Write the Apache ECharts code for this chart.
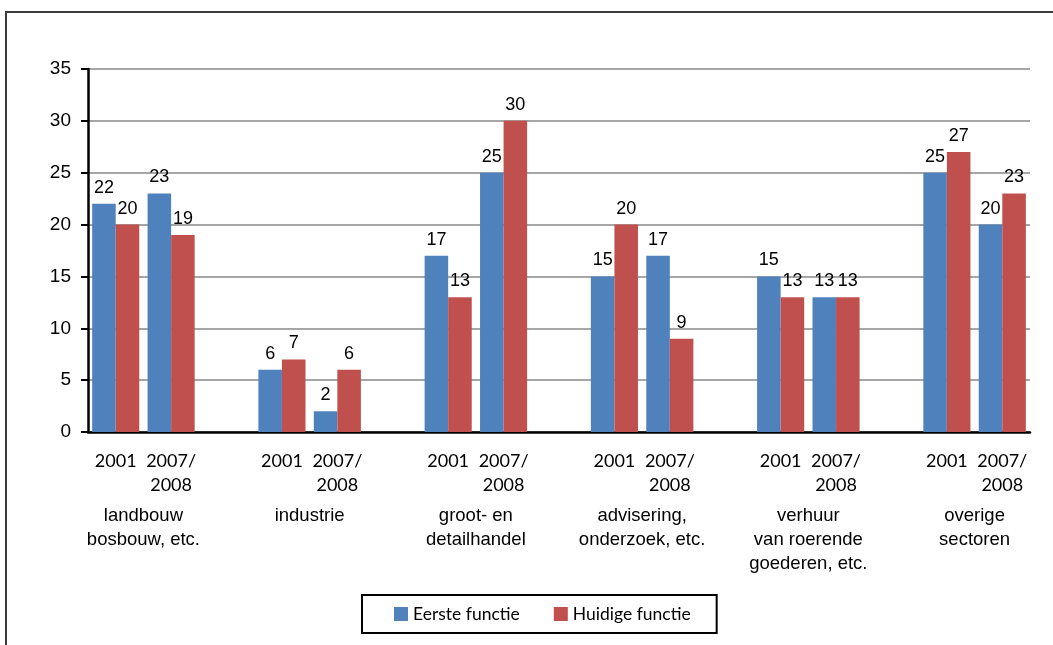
<!DOCTYPE html>
<html lang="nl">

<head>
    <meta charset="UTF-8">
    <title>Eerste en huidige functie per sector</title>
    <script src="https://cdn.jsdelivr.net/npm/echarts@6.0.0/dist/echarts.min.js"></script>
    <style>
        html, body {
            margin: 0;
            padding: 0;
            background: #fff;
            overflow: hidden;
        }

        /* rand om het hele diagram, loopt rechts en onder buiten beeld */
        .frame {
            position: absolute;
            left: 5px;
            top: 11px;
            width: 1100px;
            height: 700px;
            border: 2px solid #3c3c3c;
        }

        #chart {
            position: absolute;
            left: 0;
            top: 0;
            width: 1053px;
            height: 645px;
        }
    </style>
</head>

<body>
    <div class="frame"></div>
    <div id="chart"></div>

    <script>
        // sectoren (onderste rij van de categorie-as)
        const sectors = [
            "landbouw\nbosbouw, etc.",
            "industrie",
            "groot- en\ndetailhandel",
            "advisering,\nonderzoek, etc.",
            "verhuur\nvan roerende\ngoederen, etc.",
            "overige\nsectoren"
        ];
        const years = ["2001", "2007/\n2008"];

        // per sector: [2001, 2007/2008]
        const eersteFunctie = [[22, 23], [6, 2], [17, 25], [15, 17], [15, 13], [25, 20]];
        const huidigeFunctie = [[20, 19], [7, 6], [13, 30], [20, 9], [13, 13], [27, 23]];

        const yTicks = { min: 0, max: 35, interval: 5 };

        // categorie-as opbouwen: twee jaren per sector, lege plek ertussen
        const categories = [];
        const eersteData = [];
        const huidigeData = [];
        const sectorCenters = [];
        sectors.forEach((s, i) => {
            if (i > 0) {
                categories.push("");
                eersteData.push("-");
                huidigeData.push("-");
            }
            sectorCenters.push(categories.length + 0.5);
            years.forEach((y, j) => {
                categories.push(y);
                eersteData.push(eersteFunctie[i][j]);
                huidigeData.push(huidigeFunctie[i][j]);
            });
        });

        const labelStyle = {
            show: true,
            position: "top",
            distance: 7,
            color: "#000",
            fontFamily: "Liberation Sans",
            fontSize: 18
        };

        const chart = echarts.init(document.getElementById("chart"));

        const option = {
            animation: false,
            grid: { left: 88, right: 23, top: 69, bottom: 213 },
            legend: {
                left: 362,
                top: 595,
                itemGap: 34,
                itemWidth: 14,
                itemHeight: 14,
                icon: "rect",
                padding: [10, 26, 10, 32],
                borderColor: "#000",
                borderWidth: 2,
                textStyle: { fontFamily: "Lato", fontSize: 17.5, color: "#000" },
                data: ["Eerste functie", "Huidige functie"]
            },
            xAxis: [
                {
                    type: "category",
                    data: categories,
                    axisLine: { lineStyle: { color: "#000", width: 2.5 } },
                    axisTick: { show: false },
                    axisLabel: {
                        interval: 0,
                        margin: 17,
                        color: "#000",
                        fontFamily: "Lato",
                        fontSize: 18,
                        lineHeight: 24
                    }
                },
                {
                    // tweede rij labels: sectornamen midden onder hun twee jaren
                    type: "value",
                    position: "bottom",
                    min: -0.5,
                    max: categories.length - 0.5,
                    axisLine: { show: false },
                    axisTick: { show: false },
                    splitLine: { show: false },
                    axisLabel: {
                        customValues: sectorCenters,
                        margin: 72,
                        color: "#000",
                        fontFamily: "Liberation Sans",
                        fontSize: 18.5,
                        lineHeight: 24,
                        formatter: (v) => sectors[sectorCenters.indexOf(v)] || ""
                    }
                }
            ],
            yAxis: {
                type: "value",
                min: yTicks.min,
                max: yTicks.max,
                interval: yTicks.interval,
                axisLine: { show: true, onZero: false, lineStyle: { color: "#000", width: 2.5 } },
                axisTick: { show: true, inside: false, length: 7, lineStyle: { color: "#000", width: 2 } },
                axisLabel: {
                    margin: 17,
                    color: "#000",
                    fontFamily: "Liberation Sans",
                    fontSize: 19
                },
                splitLine: { lineStyle: { color: "#a6a6a6", width: 2 } }
            },
            series: [
                {
                    name: "Eerste functie",
                    type: "bar",
                    xAxisIndex: 0,
                    data: eersteData,
                    barGap: "0%",
                    barCategoryGap: "15%",
                    itemStyle: { color: "#4f81bd" },
                    label: labelStyle
                },
                {
                    name: "Huidige functie",
                    type: "bar",
                    xAxisIndex: 0,
                    data: huidigeData,
                    barGap: "0%",
                    barCategoryGap: "15%",
                    itemStyle: { color: "#c0504d" },
                    label: labelStyle
                }
            ]
        };

        chart.setOption(option);
    </script>
</body>

</html>
